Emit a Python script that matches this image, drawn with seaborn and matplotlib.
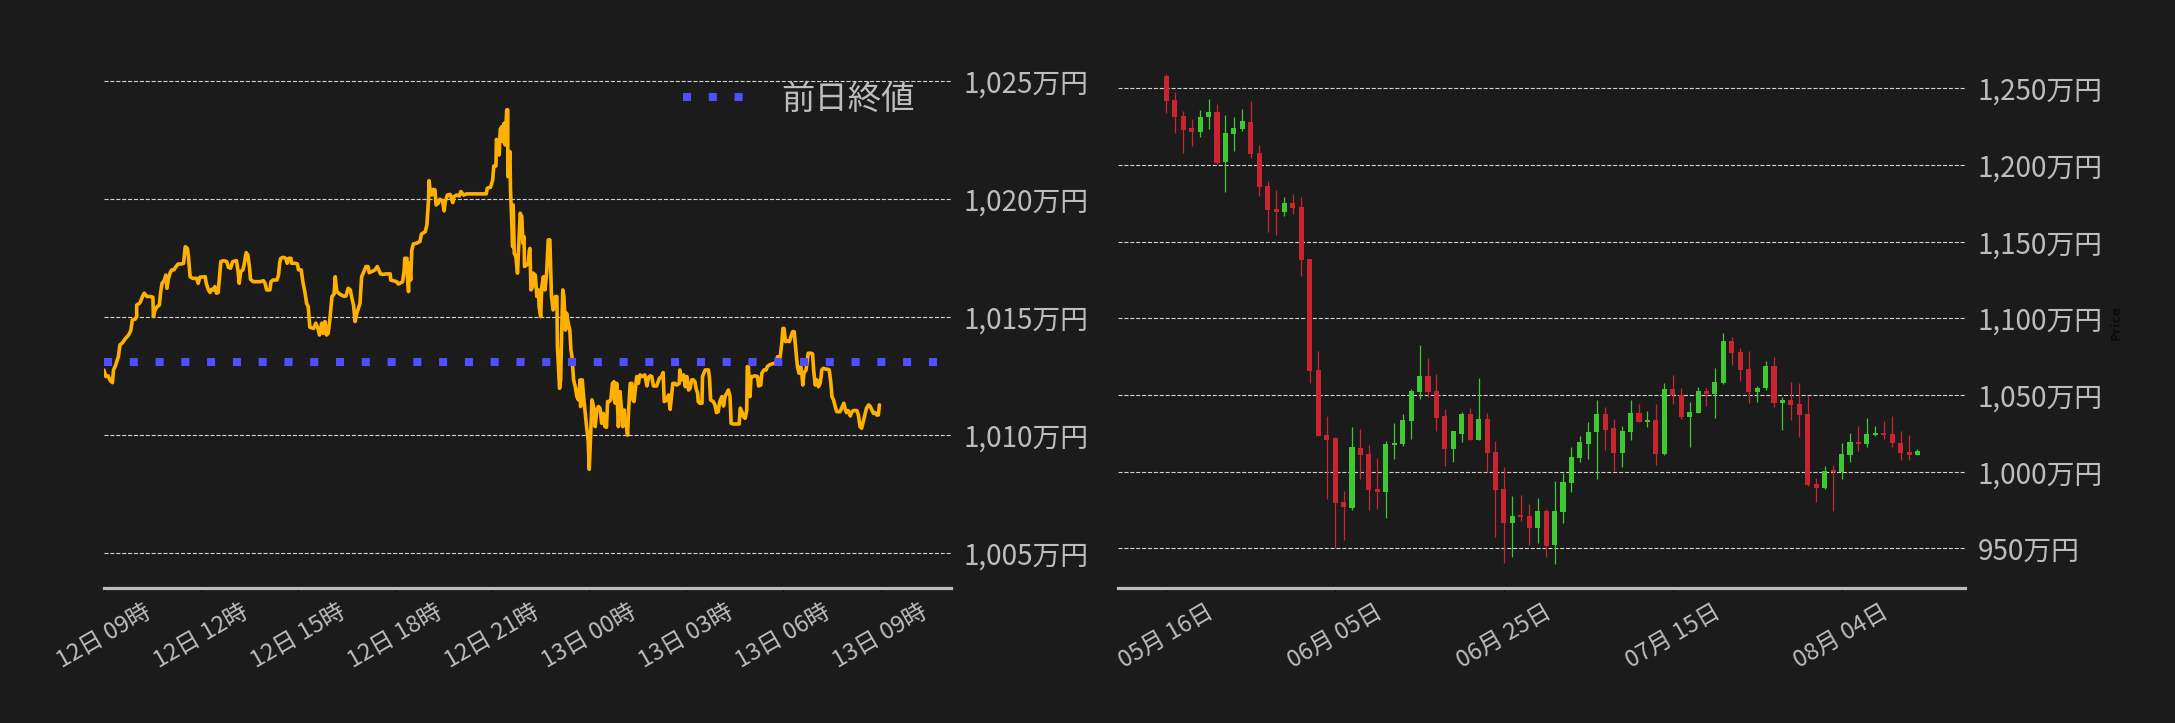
import numpy as np
import pandas as pd
import matplotlib
matplotlib.use("Agg")
import matplotlib.pyplot as plt
import matplotlib.dates as mdates
import matplotlib.ticker as mticker
import seaborn as sns

# ---------------- intraday data (minutes after 12日 09:00, price in 万円) ----------------
intraday_minutes = [
    0, 4, 8, 12, 16, 18, 21, 24, 27, 30, 35, 39, 46, 50, 53, 58, 61, 61, 66, 68,
    72, 75, 80, 86, 91, 92, 95, 99, 103, 105, 108, 112, 115, 117, 120, 123, 126, 130, 134, 138,
    144, 148, 151, 155, 157, 160, 165, 172, 175, 178, 188, 190, 194, 197, 200, 203, 206, 209, 212, 214,
    217, 222, 228, 231, 235, 239, 246, 249, 251, 254, 258, 260, 264, 267, 270, 272, 277, 283, 290, 296,
    299, 302, 308, 310, 314, 321, 324, 326, 328, 333, 337, 340, 343, 347, 348, 355, 359, 361, 366, 369,
    373, 376, 379, 381, 382, 389, 393, 397, 400, 404, 407, 410, 413, 416, 419, 423, 427, 429, 432, 437,
    444, 449, 453, 457, 460, 463, 466, 469,
    475, 478, 481, 486, 490, 492, 497, 503, 507, 511, 513, 518, 524, 531, 532, 537, 543, 546, 549, 554,
    557, 558, 562, 563, 565, 566, 569, 571, 574, 580, 586, 589, 596, 599, 602, 603, 605, 608, 611, 614,
    616, 620, 623, 628, 631, 633, 637, 642, 647, 649, 654, 659, 662, 667, 673, 685, 697, 709, 711, 717,
    721, 723, 727, 728, 731, 733, 735, 738, 740, 742, 744, 747, 749, 749, 753, 754, 756, 758, 759, 761,
    764, 767, 769, 772, 775, 777, 779, 780, 784, 787, 789, 790, 792, 795, 796, 800, 803, 806, 807, 810,
    812, 815, 818, 821, 824, 827, 830, 833, 837, 840, 841, 845, 847, 849, 851, 853, 856, 858, 861, 864,
    866, 868, 871, 874, 877, 880, 883, 884, 887, 889, 892, 895, 898, 900, 903, 905, 908, 911, 914, 917,
    920, 923, 926, 929, 932, 934, 937, 940, 943, 946, 948, 951, 954,
    957, 960, 962, 965, 966, 969, 971, 973, 976, 979, 981, 983, 986, 988, 991, 994, 999, 1003, 1007, 1010,
    1013, 1016, 1019, 1025, 1030, 1034, 1037, 1039, 1044, 1047, 1050, 1053, 1055, 1059, 1062, 1067, 1068, 1071, 1075, 1078,
    1081, 1084, 1087, 1090, 1093, 1096, 1098, 1101, 1102, 1105, 1109, 1110, 1115, 1121, 1123, 1125, 1130, 1133, 1136, 1139,
    1142, 1146, 1149, 1152, 1155, 1158, 1161, 1163, 1167, 1173, 1178, 1180, 1183, 1186, 1189, 1192, 1193, 1195, 1198, 1200,
    1203, 1207, 1212, 1214, 1218, 1220, 1224, 1228, 1230, 1234, 1238, 1243, 1246, 1249, 1254, 1257, 1259, 1261, 1264, 1267,
    1271, 1274, 1277, 1280, 1283, 1286, 1289, 1292, 1294, 1296, 1298, 1302, 1306, 1311, 1314, 1316, 1319, 1322, 1325, 1328,
    1330, 1331, 1334, 1339, 1342, 1345, 1348, 1350, 1353, 1356, 1359, 1362, 1365, 1368, 1372, 1375, 1377, 1380, 1384, 1387,
    1390, 1396, 1399, 1402, 1405, 1408, 1411, 1414, 1418, 1421, 1424, 1427, 1430, 1433, 1436, 1438,
]
intraday_prices = [
    1012.77, 1012.49, 1012.52, 1012.32, 1012.23, 1012.77, 1012.91, 1013.12, 1013.33, 1013.83, 1013.93, 1014.07, 1014.25, 1014.44, 1014.89, 1014.92, 1015.03, 1015.52, 1015.59, 1015.66,
    1015.90, 1016.02, 1015.88, 1015.88, 1015.85, 1015.03, 1015.31, 1015.45, 1015.52, 1015.99, 1016.44, 1016.55, 1016.79, 1016.23, 1016.65, 1016.89, 1017.01, 1017.01, 1017.15, 1017.26,
    1017.26, 1017.29, 1017.99, 1017.92, 1017.57, 1016.72, 1016.65, 1016.65, 1016.44, 1016.70, 1016.72, 1016.44, 1016.16, 1016.05, 1016.19, 1016.16, 1016.30, 1016.02, 1016.05, 1016.58,
    1017.36, 1017.40, 1017.36, 1017.12, 1017.08, 1017.36, 1017.40, 1016.94, 1016.44, 1016.94, 1017.01, 1017.22, 1017.74, 1017.64, 1017.15, 1016.61, 1016.51, 1016.51, 1016.51, 1016.55,
    1016.44, 1016.16, 1016.16, 1016.51, 1016.58, 1016.58, 1016.79, 1017.29, 1017.50, 1017.54, 1017.50, 1017.29, 1017.50, 1017.50, 1017.29, 1017.29, 1017.26, 1017.01, 1017.01, 1016.51,
    1016.05, 1015.59, 1015.45, 1014.89, 1014.58, 1014.53, 1014.75, 1014.53, 1014.25, 1014.75, 1014.32, 1014.82, 1014.25, 1014.32, 1014.89, 1015.88, 1015.99, 1016.72, 1016.09, 1015.99,
    1015.90, 1015.90, 1016.23, 1016.16, 1015.81, 1015.52, 1014.82, 1015.17,
    1015.59, 1016.72, 1016.87, 1017.15, 1017.15, 1016.89, 1016.94, 1017.01, 1017.15, 1016.94, 1016.84, 1016.82, 1016.84, 1016.84, 1016.58, 1016.55, 1016.51, 1016.41, 1016.44, 1016.51,
    1017.01, 1017.50, 1017.50, 1016.72, 1016.09, 1017.29, 1016.58, 1017.85, 1018.11, 1018.14, 1018.21, 1018.53, 1018.63, 1018.91, 1019.97, 1020.79, 1020.40, 1020.18, 1020.42, 1020.40,
    1019.76, 1019.83, 1020.00, 1019.94, 1019.51, 1019.90, 1020.18, 1020.21, 1019.86, 1020.11, 1020.18, 1020.14, 1020.33, 1020.18, 1020.23, 1020.23, 1020.23, 1020.23, 1020.47, 1020.51,
    1020.82, 1021.41, 1021.41, 1022.54, 1022.23, 1021.88, 1022.97, 1023.08, 1022.44, 1023.22, 1022.30, 1023.79, 1023.79, 1020.96, 1022.02, 1020.40, 1019.27, 1017.99, 1019.76, 1017.71,
    1017.57, 1016.87, 1017.85, 1019.41, 1019.27, 1018.14, 1018.42, 1017.15, 1017.22, 1017.29, 1017.85, 1017.92, 1016.16, 1016.30, 1016.87, 1016.79, 1015.88, 1016.16, 1015.45, 1015.03,
    1016.30, 1016.72, 1016.16, 1016.87, 1018.28, 1018.28, 1015.88, 1015.31, 1015.88, 1015.88, 1013.76, 1011.99, 1012.35, 1014.46, 1016.16, 1015.88, 1014.46, 1015.17, 1014.75, 1014.46,
    1013.62, 1013.33, 1012.35, 1012.06, 1011.64, 1011.50, 1012.35, 1011.22, 1012.35, 1011.78, 1011.07, 1010.37, 1009.80, 1008.56, 1010.23, 1011.50, 1011.22, 1010.37, 1011.07, 1011.22,
    1011.15, 1010.51, 1010.93, 1010.37, 1010.34, 1011.43, 1011.43, 1011.50, 1012.20, 1012.27, 1011.36, 1012.20, 1010.37,
    1011.85, 1011.07, 1010.37, 1011.07, 1010.51, 1010.37, 1010.01, 1011.07, 1012.20, 1012.20, 1011.50, 1011.43, 1012.06, 1012.49, 1012.20, 1012.56, 1012.49, 1012.56, 1012.09, 1012.46,
    1012.52, 1012.49, 1012.09, 1012.09, 1012.42, 1012.49, 1012.66, 1011.43, 1011.50, 1011.71, 1011.10, 1011.78, 1012.20, 1012.20, 1012.13, 1012.20, 1012.77, 1012.35, 1012.56, 1012.06,
    1012.49, 1011.92, 1011.99, 1012.35, 1012.35, 1012.27, 1011.99, 1011.78, 1011.43, 1011.36, 1011.36, 1012.49, 1012.77, 1012.77, 1012.42, 1011.50, 1011.43, 1011.29, 1010.96, 1011.00,
    1011.43, 1011.64, 1011.24, 1011.67, 1011.78, 1011.92, 1011.64, 1010.51, 1010.48, 1010.48, 1010.48, 1011.15, 1011.00, 1010.79, 1010.72, 1011.07, 1012.91, 1012.91, 1011.64, 1012.49,
    1012.49, 1012.52, 1012.49, 1012.09, 1012.13, 1012.63, 1012.77, 1012.77, 1012.91, 1012.98, 1013.02, 1013.05, 1013.05, 1013.33, 1013.33, 1013.90, 1014.53, 1014.53, 1013.97, 1014.01,
    1013.97, 1014.18, 1014.39, 1014.39, 1013.62, 1012.91, 1012.63, 1012.91, 1012.63, 1012.13, 1012.63, 1012.77, 1013.48, 1013.48, 1013.45, 1012.77, 1012.13, 1012.35, 1012.06, 1012.20,
    1012.49, 1012.77, 1012.84, 1012.80, 1012.80, 1012.77, 1012.20, 1011.64, 1011.50, 1011.22, 1011.00, 1011.00, 1011.00, 1011.15, 1011.36, 1011.07, 1010.96, 1011.05, 1010.82, 1011.00,
    1011.05, 1011.05, 1010.86, 1010.37, 1010.30, 1010.58, 1010.86, 1011.15, 1011.29, 1011.22, 1011.07, 1010.93, 1010.96, 1010.86, 1010.86, 1011.29,
]
prev_close = 1013.1
intraday_start = "2024-08-12 09:00"
legend_label = "前日終値"

# ---------------- daily OHLC (万円) ----------------
daily_start = "2024-05-16"
opens = [
    1258.0, 1242.4, 1232.0, 1224.1, 1221.7, 1231.5, 1234.6, 1202.2, 1220.4, 1223.7,
    1228.0, 1207.8, 1186.3, 1171.3, 1169.6, 1175.2, 1172.6, 1138.7, 1066.3, 1023.9,
    1021.9, 980.2, 976.5, 1015.4, 1011.5, 988.7, 987.0, 1017.6, 1018.0, 1033.3,
    1052.2, 1062.4, 1052.6, 1036.3, 1015.0, 1024.8, 1037.6, 1020.9, 1034.3, 1012.8,
    988.7, 966.7, 971.7, 971.1, 963.5, 974.3, 952.2, 973.9, 992.8, 1009.1,
    1018.3, 1025.9, 1037.6, 1028.5, 1012.4, 1025.9, 1038.3, 1032.6, 1033.7, 1011.7,
    1053.9, 1050.0, 1035.9, 1038.5, 1052.6, 1050.9, 1058.0, 1085.2, 1078.0, 1066.7,
    1051.7, 1054.6, 1068.9, 1045.0, 1046.7, 1044.1, 1037.6, 992.0, 989.3, 1001.1,
    999.8, 1011.1, 1019.3, 1018.3, 1024.1, 1025.2, 1024.6, 1018.7, 1012.8, 1011.1,
]
highs = [
    1259.3, 1247.8, 1235.2, 1229.8, 1235.9, 1242.8, 1239.6, 1232.4, 1231.5, 1236.3,
    1241.7, 1213.0, 1189.6, 1183.7, 1178.9, 1181.1, 1179.1, 1138.7, 1078.7, 1036.3,
    1022.6, 987.4, 1029.1, 1027.8, 1017.4, 1008.9, 1019.8, 1031.5, 1037.6, 1053.7,
    1082.6, 1074.1, 1063.7, 1040.9, 1026.5, 1038.9, 1041.5, 1060.9, 1038.3, 1020.0,
    1003.0, 983.9, 984.8, 978.9, 982.6, 975.5, 993.9, 998.9, 1015.9, 1023.0,
    1032.2, 1046.7, 1042.2, 1034.3, 1029.8, 1046.7, 1044.1, 1039.6, 1044.1, 1057.8,
    1063.0, 1054.6, 1045.4, 1055.2, 1054.6, 1067.6, 1090.2, 1087.8, 1080.7, 1078.7,
    1055.9, 1071.9, 1074.8, 1048.5, 1058.5, 1057.8, 1049.3, 995.7, 1003.7, 1004.3,
    1018.5, 1025.2, 1029.8, 1035.0, 1029.6, 1033.3, 1036.3, 1026.5, 1023.9, 1015.0,
]
lows = [
    1234.1, 1221.1, 1208.0, 1212.6, 1218.0, 1223.3, 1200.4, 1182.6, 1208.9, 1222.4,
    1204.8, 1180.0, 1156.5, 1154.6, 1166.5, 1168.3, 1127.8, 1057.6, 1023.5, 982.4,
    950.0, 955.7, 974.8, 995.4, 975.2, 975.9, 969.6, 1008.0, 1016.9, 1021.1,
    1047.2, 1048.5, 1026.7, 1003.9, 1006.1, 1019.1, 1020.9, 1020.9, 1000.0, 957.2,
    940.7, 944.1, 968.0, 952.4, 953.3, 944.6, 939.6, 966.7, 987.0, 1006.1,
    1008.0, 995.0, 1014.1, 1000.7, 1002.8, 1020.4, 1032.6, 1029.3, 1004.6, 1011.1,
    1044.3, 1034.6, 1016.3, 1038.0, 1043.0, 1035.2, 1057.4, 1069.8, 1059.3, 1045.0,
    1045.7, 1053.5, 1042.2, 1027.4, 1033.7, 1022.6, 990.7, 980.2, 988.7, 974.6,
    995.0, 1006.5, 1013.7, 1016.3, 1023.3, 1021.3, 1016.3, 1007.8, 1007.8, 1011.1,
]
closes = [
    1242.0, 1231.5, 1223.0, 1221.7, 1231.3, 1234.6, 1201.5, 1220.9, 1224.1, 1228.7,
    1207.4, 1185.9, 1170.9, 1169.6, 1175.2, 1172.2, 1138.3, 1065.9, 1023.5, 1020.9,
    979.8, 977.2, 1016.1, 1011.1, 988.3, 987.0, 1018.0, 1018.5, 1033.7, 1052.6,
    1062.4, 1052.2, 1035.2, 1015.0, 1026.5, 1037.6, 1020.9, 1034.3, 1012.4, 988.3,
    966.7, 971.1, 970.7, 963.5, 974.3, 951.7, 974.3, 993.3, 1009.6, 1019.3,
    1025.9, 1037.6, 1027.4, 1012.4, 1026.5, 1038.3, 1032.6, 1033.7, 1011.7, 1053.9,
    1050.0, 1035.9, 1038.9, 1052.6, 1050.9, 1058.5, 1085.2, 1077.6, 1066.3, 1051.7,
    1054.8, 1068.9, 1045.0, 1046.7, 1043.5, 1037.0, 991.3, 989.3, 1000.4, 999.8,
    1011.5, 1019.3, 1018.3, 1024.6, 1025.2, 1024.1, 1018.9, 1012.4, 1011.1, 1013.5,
]

# ---------------- style ----------------
BG = "#1b1b1b"
TXT = "#bdbdbd"
GRID = "#d2d2d2"
LINE = "#FFB000"
PREV = "#4f4fff"
UP = "#3ec832"
DOWN = "#c9242f"

sns.set_theme(style="dark", rc={"axes.facecolor": BG, "figure.facecolor": BG})
plt.rcParams["font.family"] = ["Noto Sans CJK JP", "DejaVu Sans"]

fig = plt.figure(figsize=(21.75, 7.23), dpi=100)
ax1 = fig.add_axes([0.04772, 0.1867, 0.3896, 0.7358])
ax2 = fig.add_axes([0.51393, 0.1867, 0.3896, 0.7358])

# ---------------- left: intraday line ----------------
t0 = pd.Timestamp(intraday_start)
df = pd.DataFrame({
    "time": t0 + pd.to_timedelta(intraday_minutes, unit="min"),
    "price": intraday_prices,
})
sns.lineplot(data=df, x="time", y="price", ax=ax1, color=LINE, lw=2.6,
             estimator=None, sort=False, legend=False, zorder=2)
ax1.axhline(prev_close, color=PREV, lw=5.8, ls=(0, (1, 2.2)), label=legend_label, zorder=3)

ax1.set_xlim(t0, t0 + pd.Timedelta(minutes=1571))
ax1.set_ylim(1003.53, 1026.07)
ax1.yaxis.set_major_locator(mticker.MultipleLocator(5))
ax1.xaxis.set_major_locator(mdates.HourLocator(byhour=range(0, 24, 3)))
ax1.xaxis.set_major_formatter(mdates.DateFormatter("%d日 %H時"))

leg = ax1.legend(loc="upper right", frameon=False, fontsize=24, handlelength=2.1,
                 handletextpad=0.85, bbox_to_anchor=(0.993, 1.008))
for t in leg.get_texts():
    t.set_color(TXT)

# ---------------- right: candlesticks ----------------
dates = pd.date_range(daily_start, periods=len(opens), freq="D")
xs = np.arange(len(opens))
o = np.array(opens); h = np.array(highs); l = np.array(lows); c = np.array(closes)
cols = [UP if cc >= oo else DOWN for oo, cc in zip(o, c)]
ax2.vlines(xs, l, h, colors=cols, lw=0.9, zorder=2)
ax2.bar(xs, np.maximum(np.abs(c - o), 0.6), bottom=np.minimum(o, c), width=0.6,
        color=cols, linewidth=0, zorder=3)
ax2.set_xlim(-5.75, 94.65)
ax2.set_ylim(924.13, 1271.09)
ax2.yaxis.set_major_locator(mticker.MultipleLocator(50))
tick_idx = [0, 20, 40, 60, 80]
ax2.set_xticks(tick_idx)
ax2.set_xticklabels([dates[i].strftime("%m月 %d日") for i in tick_idx])
ax2.set_ylabel("Price", color="#0c0c0c", fontsize=9, fontweight="bold",
               family="DejaVu Sans", labelpad=5)
ax2.yaxis.set_label_position("right")

# ---------------- common axis styling ----------------
yfmt = mticker.FuncFormatter(lambda v, p: f"{int(round(v)):,}万円")
for ax in (ax1, ax2):
    ax.set_xlabel("")
    if ax is ax1:
        ax.set_ylabel("")
    ax.yaxis.tick_right()
    ax.yaxis.set_major_formatter(yfmt)
    for s in ("left", "right", "top"):
        ax.spines[s].set_visible(False)
    ax.spines["bottom"].set_visible(True)
    ax.spines["bottom"].set_color("#bdbdbd")
    ax.spines["bottom"].set_linewidth(2.3)
    ax.grid(axis="y", ls="--", lw=0.8, color=GRID)
    ax.grid(axis="x", visible=False)
    ax.tick_params(axis="x", bottom=True, length=3, width=0.8, color="#050505",
                   labelcolor=TXT, labelsize=17, pad=6, labelrotation=30)
    ax.tick_params(axis="y", left=False, right=False, length=0, labelcolor=TXT,
                   labelsize=20, pad=9)
    for lab in ax.get_xticklabels():
        lab.set_ha("center")

fig.savefig("out.png", dpi=100, facecolor=BG)
